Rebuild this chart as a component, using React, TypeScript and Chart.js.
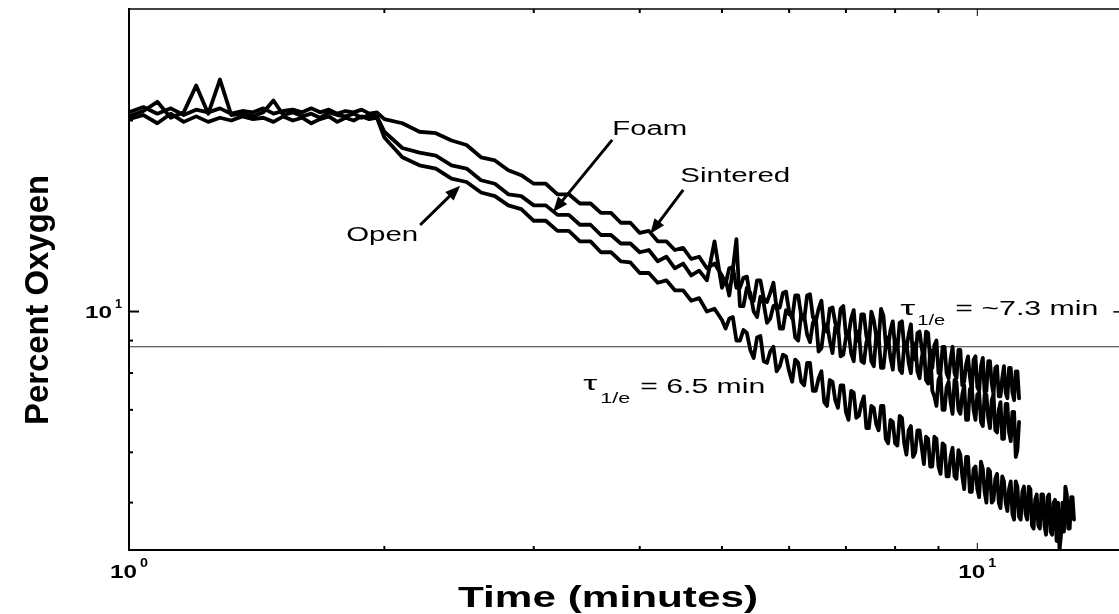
import React, { useEffect, useRef } from 'react';
import { Chart, registerables } from 'chart.js';

Chart.register(...registerables);

// ---------- data (minutes, percent oxygen) ----------
const plateauTimes = [
  1.00, 1.04, 1.08, 1.12, 1.16, 1.20, 1.24, 1.28, 1.32, 1.36, 1.40, 1.44, 1.48,
  1.52, 1.56, 1.60, 1.64, 1.68, 1.72, 1.76, 1.80, 1.84, 1.88, 1.92, 1.96, 2.00,
];
const decayTimes = [
  2.1, 2.2, 2.3, 2.4, 2.5, 2.6, 2.7, 2.8, 2.9, 3.0,
  3.1, 3.2, 3.3, 3.4, 3.5, 3.6, 3.7, 3.8, 3.9, 4.0,
  4.1, 4.2, 4.3, 4.4, 4.5, 4.6, 4.7, 4.8, 4.9, 5.0,
  5.1, 5.2, 5.3, 5.4, 5.5, 5.6, 5.7, 5.8, 5.9, 6.0,
  6.1, 6.2, 6.3, 6.4, 6.5, 6.6, 6.7, 6.8, 6.9, 7.0,
  7.1, 7.2, 7.3, 7.4, 7.5, 7.6, 7.7, 7.8, 7.9, 8.0,
  8.1, 8.2, 8.3, 8.4, 8.5, 8.6, 8.7, 8.8, 8.9, 9.0,
  9.1, 9.2, 9.3, 9.4, 9.5, 9.6, 9.7, 9.8, 9.9, 10.0,
  10.1, 10.2, 10.3, 10.4, 10.5, 10.6, 10.7, 10.8, 10.9, 11.0,
  11.1, 11.2, 11.3, 11.4, 11.5, 11.6, 11.7, 11.8, 11.9, 12.0,
  12.1, 12.2, 12.3, 12.4, 12.5, 12.6, 12.7, 12.8, 12.9, 13.0,
];
// extra samples in the noisy tail (half-way between the decay samples)
const tailMidTimes = [
  5.05, 5.15, 5.25, 5.35, 5.45, 5.55, 5.65, 5.75, 5.85, 5.95,
  6.05, 6.15, 6.25, 6.35, 6.45, 6.55, 6.65, 6.75, 6.85, 6.95,
  7.05, 7.15, 7.25, 7.35, 7.45, 7.55, 7.65, 7.75, 7.85, 7.95,
  8.05, 8.15, 8.25, 8.35, 8.45, 8.55, 8.65, 8.75, 8.85, 8.95,
  9.05, 9.15, 9.25, 9.35, 9.45, 9.55, 9.65, 9.75, 9.85, 9.95,
  10.05, 10.15, 10.25, 10.35, 10.45, 10.55, 10.65, 10.75, 10.85, 10.95,
  11.05, 11.15, 11.25, 11.35, 11.45, 11.55, 11.65, 11.75, 11.85, 11.95,
  12.05, 12.15, 12.25, 12.35, 12.45, 12.55, 12.65, 12.75, 12.85, 12.95,
];

const foamValues = [
  20.6, 21.0, 20.5, 20.9, 20.4, 20.8, 20.6, 20.9, 20.5, 20.7, 20.6, 20.9, 20.5,
  20.7, 20.8, 20.6, 20.9, 20.6, 20.8, 20.5, 20.7, 20.6, 20.8, 20.5, 20.6, 20.1,
  19.8, 19.2, 19.1, 18.6, 18.3, 17.5, 17.3, 16.7, 16.4, 15.9,
  15.9, 15.3, 15.3, 14.8, 14.8, 14.3, 14.3, 13.8, 13.8, 13.3,
  13.4, 12.9, 12.9, 12.5, 12.6, 12.1, 12.2, 11.7, 11.9, 11.4,
  11.7, 10.9, 11.3, 10.5, 11.2, 10.5, 10.7, 10.1, 10.7, 10.0,
  10.6, 9.85, 10.6, 9.8, 10.1, 9.35, 10.1, 9.6, 10.1, 9.2,
  9.75, 9.0, 9.9, 9.15, 10.0, 9.15, 10.1, 8.9, 9.35, 8.75,
  9.6, 8.8, 9.2, 8.45, 9.25, 8.75, 9.3, 8.35, 8.85, 8.0,
  8.8, 8.0, 8.4, 8.0, 8.7, 7.65, 8.25, 7.9, 8.4, 7.6,
  8.2, 7.45, 8.35, 7.7, 8.15, 7.35, 7.85, 7.45, 8.15, 7.45,
  8.05, 7.3,
];
const foamMidValues = [
  11.05, 11.75, 10.9, 11.35, 10.4, 11.2, 10.35, 11.1, 10.15, 10.75,
  9.75, 10.6, 9.7, 10.65, 9.65, 10.4, 9.3, 10.15, 9.25, 10.2,
  9.15, 10.05, 9.0, 9.9, 8.85, 9.7, 9.0, 9.85, 8.8, 9.65,
  8.75, 9.65, 8.75, 9.55, 8.4, 9.3, 8.4, 9.25, 8.15, 9.0,
  8.0, 8.8, 7.85, 8.8, 7.85, 8.7, 7.75, 8.5, 7.5, 8.5,
  7.5, 8.45, 7.5, 8.35, 7.4, 8.2, 7.35, 8.2, 7.3, 8.15,
  7.25, 8.05,
];

const sinteredValues = [
  20.3, 20.7, 21.4, 20.2, 20.6, 22.7, 20.5, 23.2, 20.4, 20.5, 20.3, 20.6, 21.5,
  20.4, 20.6, 20.3, 20.5, 20.2, 20.6, 20.4, 20.3, 20.5, 20.2, 20.4, 20.3, 19.2,
  18.1, 17.8, 17.6, 17.0, 16.8, 16.1, 15.9, 15.3, 15.2, 14.7,
  14.7, 14.2, 14.2, 13.7, 13.7, 13.2, 13.2, 12.8, 12.8, 12.4,
  12.5, 12.0, 12.2, 11.7, 11.9, 11.4, 11.6, 11.2, 12.9, 10.9,
  10.6, 13.0, 10.2, 10.7, 9.8, 10.3, 9.75, 10.25, 9.4, 9.9,
  9.1, 9.9, 9.2, 9.6, 8.65, 9.5, 9.0, 9.45, 8.5, 9.1,
  8.6, 9.3, 8.35, 8.95, 8.35, 9.15, 8.15, 8.85, 8.45, 9.05,
  8.1, 8.85, 8.3, 8.9, 8.05, 8.45, 7.8, 8.7, 7.35, 7.8,
  7.0, 7.6, 7.2, 7.8, 7.0, 7.4, 6.75, 7.55, 7.0, 7.4,
  6.7, 7.4, 6.8, 7.25, 6.5, 7.0, 6.3, 7.15, 6.45, 6.95,
  5.9, 6.7,
];
const sinteredMidValues = [
  11.25, 11.65, 10.2, 10.9, 10.0, 10.55, 9.6, 10.2, 9.4, 10.05,
  9.95, 9.0, 9.85, 8.95, 9.8, 8.75, 9.55, 8.6, 9.5, 8.55,
  9.3, 8.35, 9.3, 8.3, 9.15, 8.2, 9.15, 8.15, 9.1, 8.1,
  8.9, 8.0, 8.95, 8.0, 8.9, 7.85, 8.8, 7.7, 7.5, 7.1,
  7.95, 7.0, 7.75, 6.9, 7.75, 6.9, 7.65, 6.75, 7.6, 6.75,
  7.45, 6.6, 7.4, 6.55, 7.4, 6.45, 7.2, 6.3, 7.15, 6.25,
  6.95, 6.05,
];

const openValues = [
  20.1, 20.4, 19.8, 20.5, 19.9, 20.3, 19.9, 20.2, 20.0, 20.3, 20.1, 20.2, 19.9,
  20.3, 20.0, 20.2, 19.8, 20.1, 20.3, 19.9, 20.2, 20.0, 20.3, 20.1, 20.2, 18.8,
  17.5, 17.0, 16.8, 16.2, 16.0, 15.4, 15.2, 14.7, 14.5, 13.9,
  13.9, 13.4, 13.4, 12.9, 12.9, 12.4, 12.4, 12.0, 11.95, 11.5,
  11.5, 11.1, 11.2, 10.8, 10.8, 10.4, 10.5, 10.0, 10.1, 9.7,
  9.75, 9.0, 9.35, 8.7, 9.1, 8.35, 8.65, 8.05, 8.55, 8.05,
  8.4, 7.75, 8.3, 7.5, 7.85, 7.2, 7.8, 7.25, 7.65, 6.95,
  7.5, 6.8, 7.15, 6.55, 7.1, 6.65, 7.1, 6.3, 6.75, 6.2,
  6.85, 6.2, 6.5, 5.9, 6.5, 6.1, 6.35, 5.7, 6.35, 5.7,
  6.2, 5.5, 5.9, 5.5, 6.05, 5.5, 5.9, 5.2, 5.65, 5.25,
  5.8, 5.2, 5.65, 5.0, 5.45, 5.0, 5.5, 5.0, 5.25, 4.8,
  5.4, 4.75, 5.2, 4.8, 5.3, 4.6, 5.05, 4.6, 5.15, 4.6,
  5.1, 4.5, 5.0, 4.35, 4.2, 5.0, 5.3, 4.55, 5.1, 4.7,
];
const openMidValues = [
  9.4, 9.8, 9.0, 9.25, 8.45, 9.15, 8.3, 8.8, 8.2, 8.5,
  7.75, 8.3, 7.65, 8.3, 7.5, 8.05, 7.1, 7.75, 7.05, 7.65,
  6.75, 7.45, 6.85, 7.35, 6.55, 7.05, 6.5, 7.1, 6.2, 6.7,
  6.15, 6.8, 5.95, 6.6, 6.0, 6.5, 5.75, 6.3, 5.7, 6.3,
  5.55, 6.15, 5.5, 6.1, 5.45, 5.95, 5.25, 5.9, 5.2, 5.7,
  5.1, 5.65, 5.0, 5.6, 5.05, 5.55, 4.9, 5.4, 4.85, 5.4,
  4.7, 5.3, 4.7, 5.3, 4.7, 5.25, 4.55, 5.15, 4.55, 5.15,
  4.45, 5.15, 4.45, 5.05, 5.0, 4.45, 4.5, 5.15, 4.55, 5.1,
];

const thresholdValue = 8.8;
const xRange = [1, 14.69];
const yRange = [4.21, 29.97];
const xMinorTicks = [2, 3, 4, 5, 6, 7, 8, 9];
const xMajorTicks = [1, 10];
const yMinorTicks = [5, 6, 7, 8, 9, 20];
const yMajorTicks = [10];

// annotation anchors in data space [time, percent]
const openLabelAt = [1.803, 12.92];
const foamLabelAt = [3.712, 18.98];
const sinteredLabelAt = [4.465, 16.01];
const openArrow = [[2.204, 13.69], [2.457, 15.78]];
const foamArrow = [[3.712, 18.64], [3.162, 14.35]];
const sinteredArrow = [[4.501, 15.55], [4.116, 13.26]];
const tauLongAt = [8.114, 9.88];
const tauShortAt = [3.431, 7.53];

const SANS = '"Liberation Sans", Arial, Helvetica, sans-serif';

function fitText(ctx: CanvasRenderingContext2D, text: string, x: number, y: number, font: string, width: number) {
  ctx.save();
  ctx.font = font;
  ctx.textAlign = 'left';
  ctx.textBaseline = 'alphabetic';
  const w = ctx.measureText(text).width;
  ctx.translate(x, y);
  ctx.scale(width / w, 1);
  ctx.fillText(text, 0, 0);
  ctx.restore();
}

function seg(ctx: CanvasRenderingContext2D, x1: number, y1: number, x2: number, y2: number) {
  ctx.beginPath();
  ctx.moveTo(x1, y1);
  ctx.lineTo(x2, y2);
  ctx.stroke();
}

function arrow(ctx: CanvasRenderingContext2D, x1: number, y1: number, x2: number, y2: number) {
  const ang = Math.atan2(y2 - y1, x2 - x1);
  const hl = 15;
  const hw = 6;
  const c = Math.cos(ang);
  const s = Math.sin(ang);
  ctx.lineWidth = 3;
  seg(ctx, x1, y1, x2 - hl * 0.7 * c, y2 - hl * 0.7 * s);
  ctx.beginPath();
  ctx.moveTo(x2, y2);
  ctx.lineTo(x2 - hl * c + hw * s, y2 - hl * s - hw * c);
  ctx.lineTo(x2 - hl * c - hw * s, y2 - hl * s + hw * c);
  ctx.closePath();
  ctx.fill();
}

export default function App() {
  const ref = useRef<HTMLCanvasElement>(null);

  useEffect(() => {
    const times = [...plateauTimes, ...decayTimes];
    const pts = (vals: number[], mids: number[]) => {
      const main = vals.map((v, i) => ({ x: times[i], y: v }));
      const extra = mids.map((v, i) => ({ x: tailMidTimes[i], y: v }));
      return [...main, ...extra].sort((p, q) => p.x - q.x);
    };

    const overlay = {
      id: 'overlay',
      afterDraw(chart: any) {
        const { ctx, chartArea: a } = chart;
        const xs = chart.scales.x;
        const ys = chart.scales.y;
        const P = (p: number[]) => [xs.getPixelForValue(p[0]), ys.getPixelForValue(p[1])];
        ctx.save();
        ctx.fillStyle = '#000';
        ctx.strokeStyle = '#000';
        ctx.lineCap = 'butt';

        // frame
        ctx.lineWidth = 2;
        seg(ctx, a.left, a.top - 1, a.left, a.bottom + 1);
        seg(ctx, a.left, a.bottom, a.right, a.bottom);
        ctx.lineWidth = 1.5;
        seg(ctx, a.left, a.top, a.right, a.top);

        // x ticks (inward, bottom and top)
        for (const v of xMinorTicks) {
          const px = xs.getPixelForValue(v);
          ctx.lineWidth = 2;
          seg(ctx, px, a.bottom, px, a.bottom - 4);
          seg(ctx, px, a.top, px, a.top + 4);
        }
        for (const v of xMajorTicks) {
          const px = xs.getPixelForValue(v);
          ctx.lineWidth = 1;
          seg(ctx, px, a.bottom, px, a.bottom - 7);
          seg(ctx, px, a.top, px, a.top + 7);
        }
        // y ticks (inward, left)
        for (const v of yMinorTicks) {
          const py = ys.getPixelForValue(v);
          ctx.lineWidth = 2;
          seg(ctx, a.left, py, a.left + 4, py);
        }
        for (const v of yMajorTicks) {
          const py = ys.getPixelForValue(v);
          ctx.lineWidth = 2;
          seg(ctx, a.left, py, a.left + 10, py);
        }

        // x tick labels 10^n
        for (const v of xMajorTicks) {
          const px = xs.getPixelForValue(v);
          const exp = String(Math.round(Math.log10(v)));
          fitText(ctx, '10', px - 19, a.bottom + 28, `bold 18px ${SANS}`, 27);
          fitText(ctx, exp, px + 11, a.bottom + 17, `bold 13px ${SANS}`, 8);
        }
        // y tick labels
        for (const v of yMajorTicks) {
          const py = ys.getPixelForValue(v);
          const exp = String(Math.round(Math.log10(v)));
          fitText(ctx, '10', a.left - 44, py + 6, `bold 16px ${SANS}`, 27);
          fitText(ctx, exp, a.left - 14, py - 4, `bold 12px ${SANS}`, 7);
        }

        // axis titles
        fitText(ctx, 'Time (minutes)', 458, 607, `bold 29px ${SANS}`, 300);
        ctx.save();
        ctx.translate(48, 425);
        ctx.rotate(-Math.PI / 2);
        fitText(ctx, 'Percent Oxygen', 0, 0, `bold 33px ${SANS}`, 250);
        ctx.restore();

        // curve labels
        let p = P(openLabelAt);
        fitText(ctx, 'Open', p[0], p[1], `20px ${SANS}`, 72);
        p = P(foamLabelAt);
        fitText(ctx, 'Foam', p[0], p[1], `20px ${SANS}`, 75);
        p = P(sinteredLabelAt);
        fitText(ctx, 'Sintered', p[0], p[1], `20px ${SANS}`, 110);

        for (const ar of [openArrow, foamArrow, sinteredArrow]) {
          const s0 = P(ar[0]);
          const s1 = P(ar[1]);
          arrow(ctx, s0[0], s0[1], s1[0], s1[1]);
        }

        // time-constant annotations
        p = P(tauLongAt);
        fitText(ctx, 'τ', p[0], p[1], `20px ${SANS}`, 15);
        fitText(ctx, '1/e', p[0] + 17, p[1] + 10, `14px ${SANS}`, 28);
        fitText(ctx, '= ~7.3 min', p[0] + 55, p[1], `20px ${SANS}`, 143);
        ctx.lineWidth = 1.5;
        seg(ctx, p[0] + 213, p[1] - 3, p[0] + 220, p[1] - 3);

        p = P(tauShortAt);
        fitText(ctx, 'τ', p[0], p[1], `20px ${SANS}`, 14);
        fitText(ctx, '1/e', p[0] + 17, p[1] + 13, `14px ${SANS}`, 30);
        fitText(ctx, '= 6.5 min', p[0] + 57, p[1] + 3, `20px ${SANS}`, 125);

        ctx.restore();
      },
    };

    const curve = {
      borderColor: '#000',
      borderWidth: 3.8,
      pointRadius: 0,
      tension: 0,
      fill: false,
      borderJoinStyle: 'round' as const,
      borderCapStyle: 'round' as const,
    };

    const chart = new Chart(ref.current!, {
      type: 'line',
      data: {
        datasets: [
          { label: 'Open', data: pts(openValues, openMidValues), ...curve },
          { label: 'Foam', data: pts(foamValues, foamMidValues), ...curve },
          { label: 'Sintered', data: pts(sinteredValues, sinteredMidValues), ...curve },
          {
            label: 'threshold',
            data: [{ x: xRange[0], y: thresholdValue }, { x: xRange[1], y: thresholdValue }],
            borderColor: '#333',
            borderWidth: 1,
            pointRadius: 0,
            fill: false,
          },
        ],
      },
      options: {
        animation: false,
        responsive: false,
        maintainAspectRatio: false,
        devicePixelRatio: 1,
        layout: { padding: { left: 129, top: 9, right: 0, bottom: 64 } },
        plugins: { legend: { display: false }, tooltip: { enabled: false } },
        scales: {
          x: { type: 'logarithmic', min: xRange[0], max: xRange[1], display: false },
          y: { type: 'logarithmic', min: yRange[0], max: yRange[1], display: false },
        },
      },
      plugins: [overlay],
    } as any);

    return () => chart.destroy();
  }, []);

  return (
    <div style={{ position: 'fixed', left: 0, top: 0, width: 1119, height: 614, background: '#fff' }}>
      <canvas ref={ref} width={1119} height={614} />
    </div>
  );
}
